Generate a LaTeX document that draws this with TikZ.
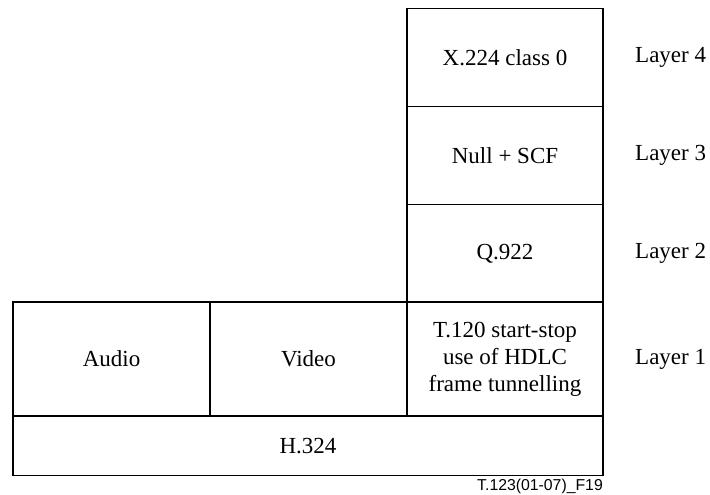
\documentclass[tikz,border=0pt]{standalone}
\usepackage{fontspec}
\setmainfont{Liberation Serif}
\newfontfamily\figsans{Liberation Sans}
\begin{document}
\begin{tikzpicture}[x=1pt,y=-1pt,
  cell/.style={draw, line width=1.6pt, font=\fontsize{23}{27}\selectfont, align=center, inner sep=0pt},
  lay/.style={anchor=west, font=\fontsize{23}{27}\selectfont, inner sep=0pt}]
\useasboundingbox (0,0) rectangle (710,495);
\path[cell] (407,8.5) rectangle node (x224) {X.224 class 0} (603,106.5);
\path[cell] (407,106.5) rectangle node (null) {Null + SCF} (603,204.5);
\path[cell] (407,204.5) rectangle node (q922) {Q.922} (603,302);
\path[cell] (407,302) rectangle node (t120) {T.120 start-stop\\use of HDLC\\frame tunnelling} (603,416);
\path[cell] (13,302) rectangle node (audio) {Audio} (210,416);
\path[cell] (210,302) rectangle node (video) {Video} (407,416);
\path[cell] (13,416) rectangle node (h324) {H.324} (603,475.5);
\node[lay] (l4) at (635,57.5) {Layer 4};
\node[lay] (l3) at (635,155.5) {Layer 3};
\node[lay] (l2) at (635,253) {Layer 2};
\node[lay] (l1) at (635,359) {Layer 1};
\node[anchor=base east, inner sep=0pt, font=\figsans\fontsize{15.8}{18}\selectfont] (fig) at (603,490) {T.123(01-07)\_F19};
\end{tikzpicture}
\end{document}
